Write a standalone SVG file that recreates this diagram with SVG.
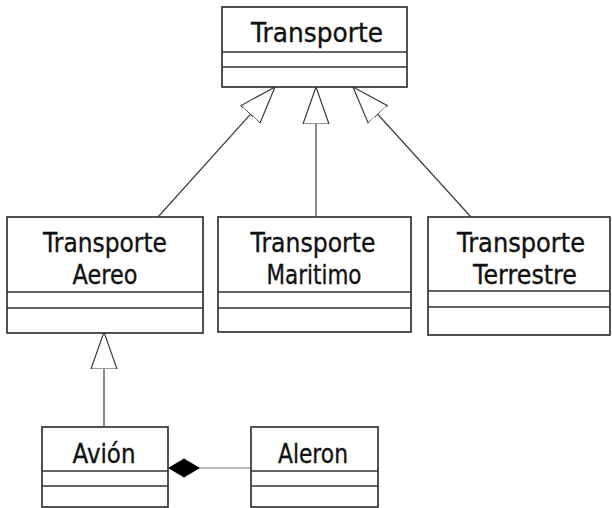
<svg xmlns="http://www.w3.org/2000/svg" width="612" height="508" viewBox="0 0 612 508">
  <style>
    .box { fill: #ffffff; stroke: #333333; stroke-width: 1.7; }
    .div { stroke: #333333; stroke-width: 1.7; }
    .name { font-family: "DejaVu Sans", Verdana, sans-serif; font-size: 26px; fill: #111111; stroke: #111111; stroke-width: 0.35; text-anchor: middle; }
    .gen { fill: none; stroke: #3a3a3a; stroke-width: 1.2; marker-end: url(#hollow); }
    .comp { fill: none; stroke: #777777; stroke-width: 1.2; marker-start: url(#diamond); }
  </style>
  <defs>
    <!-- generalization arrowhead: hollow triangle, tip at the parent class -->
    <marker id="hollow" markerUnits="userSpaceOnUse" viewBox="0 -14 39 28" markerWidth="39" markerHeight="28" refX="37" refY="0" orient="auto">
      <path d="M37,0 L0,-13 L0,13 Z" fill="#ffffff" stroke="#3a3a3a" stroke-width="1.2"/>
    </marker>
    <!-- composition: filled diamond at the whole side -->
    <marker id="diamond" markerUnits="userSpaceOnUse" viewBox="0 -11 35 22" markerWidth="35" markerHeight="22" refX="1" refY="0" orient="auto">
      <path d="M1,0 L17,-9.5 L33,0 L17,9.5 Z" fill="#000000"/>
    </marker>
  </defs>

  <g id="connectors">
    <line class="gen" x1="158" y1="217" x2="275" y2="87"/>
    <line class="gen" x1="316" y1="217" x2="316" y2="87"/>
    <line class="gen" x1="471" y1="217" x2="353" y2="87"/>
    <line class="gen" x1="104" y1="427" x2="104" y2="332"/>
    <line class="comp" x1="168" y1="468" x2="251" y2="468"/>
  </g>

  <g id="transporte">
    <rect class="box" x="222" y="7" width="185" height="80"/>
    <line class="div" x1="222" y1="52" x2="407" y2="52"/>
    <line class="div" x1="222" y1="67" x2="407" y2="67"/>
    <text class="name" x="317" y="42" textLength="132" lengthAdjust="spacingAndGlyphs">Transporte</text>
  </g>

  <g id="transporte-aereo">
    <rect class="box" x="7" y="217" width="196" height="116"/>
    <line class="div" x1="7" y1="292" x2="203" y2="292"/>
    <line class="div" x1="7" y1="308" x2="203" y2="308"/>
    <text class="name" x="105" y="252" textLength="124" lengthAdjust="spacingAndGlyphs">Transporte</text>
    <text class="name" x="105" y="284" textLength="65" lengthAdjust="spacingAndGlyphs">Aereo</text>
  </g>

  <g id="transporte-maritimo">
    <rect class="box" x="218" y="217" width="193" height="115"/>
    <line class="div" x1="218" y1="292" x2="411" y2="292"/>
    <line class="div" x1="218" y1="308" x2="411" y2="308"/>
    <text class="name" x="313" y="252" textLength="125" lengthAdjust="spacingAndGlyphs">Transporte</text>
    <text class="name" x="314" y="284" textLength="95" lengthAdjust="spacingAndGlyphs">Maritimo</text>
  </g>

  <g id="transporte-terrestre">
    <rect class="box" x="428" y="217" width="182" height="118"/>
    <line class="div" x1="428" y1="291" x2="610" y2="291"/>
    <line class="div" x1="428" y1="307" x2="610" y2="307"/>
    <text class="name" x="521" y="252" textLength="128" lengthAdjust="spacingAndGlyphs">Transporte</text>
    <text class="name" x="525" y="284" textLength="104" lengthAdjust="spacingAndGlyphs">Terrestre</text>
  </g>

  <g id="avion">
    <rect class="box" x="42" y="427" width="126" height="80"/>
    <line class="div" x1="42" y1="471" x2="168" y2="471"/>
    <line class="div" x1="42" y1="486" x2="168" y2="486"/>
    <text class="name" x="104" y="463" textLength="63" lengthAdjust="spacingAndGlyphs">Avión</text>
  </g>

  <g id="aleron">
    <rect class="box" x="251" y="427" width="127" height="80"/>
    <line class="div" x1="251" y1="471" x2="378" y2="471"/>
    <line class="div" x1="251" y1="486" x2="378" y2="486"/>
    <text class="name" x="313" y="463" textLength="70" lengthAdjust="spacingAndGlyphs">Aleron</text>
  </g>
</svg>
